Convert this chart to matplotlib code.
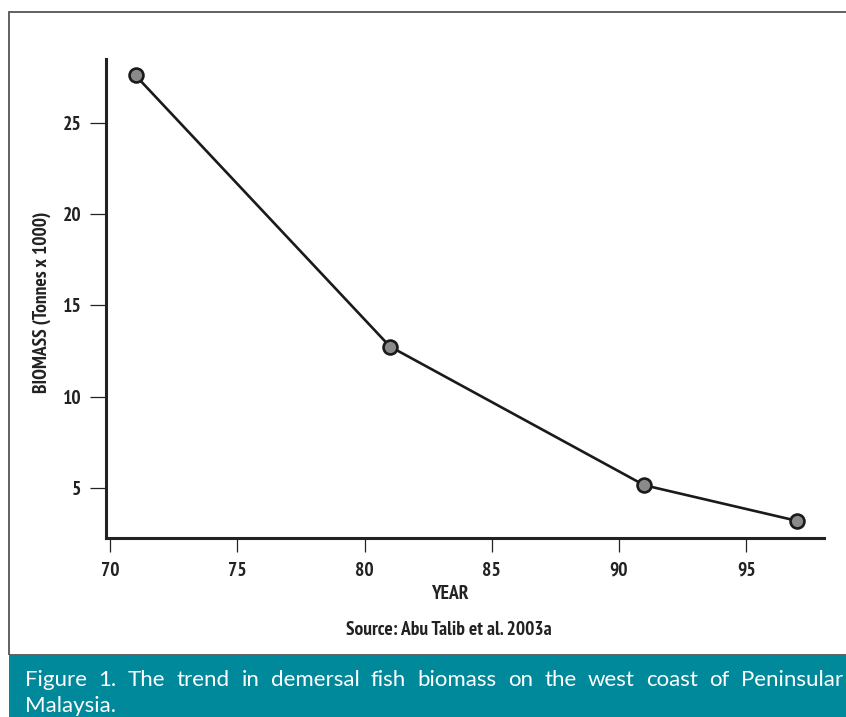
import matplotlib
matplotlib.use('Agg')
import matplotlib.pyplot as plt
from matplotlib.patches import Rectangle

years = [71, 81, 91, 97]
biomass = [27.6, 12.75, 5.15, 3.2]
x_ticks = [70, 75, 80, 85, 90, 95]
y_ticks = [5, 10, 15, 20, 25]

caption_words = "Figure 1. The trend in demersal fish biomass on the west coast of Peninsular".split()
caption_last = "Malaysia."

W, H = 846, 717
cond = ['PT Sans Narrow', 'DejaVu Sans']
teal = '#00889b'
ink = '#222222'

fig = plt.figure(figsize=(W / 100, H / 100), dpi=100)
fig.patch.set_facecolor('white')

# frame and caption band
fig.add_artist(Rectangle((9 / W, 62 / H), 1.0, (655 - 12) / H, transform=fig.transFigure,
                         facecolor='none', edgecolor='#555555', lw=1.3))
fig.add_artist(Rectangle((9 / W, 0), 1.0, 62 / H, transform=fig.transFigure,
                         facecolor=teal, edgecolor='none'))

ax = fig.add_axes([106 / W, 1 - 538 / H, (824 - 106) / W, (538 - 59) / H])
ax.plot(years, biomass, color='#1a1a1a', lw=1.9, marker='o', ms=10,
        markerfacecolor='#8a8a8a', markeredgecolor='#1a1a1a', markeredgewidth=1.9,
        clip_on=False, zorder=3)
ax.set_xlim(69.84, 98.06)
ax.set_ylim(2.26, 28.5)
ax.set_xticks(x_ticks)
ax.set_yticks(y_ticks)
for s in ['top', 'right']:
    ax.spines[s].set_visible(False)
for s in ['left', 'bottom']:
    ax.spines[s].set_linewidth(2.2)
    ax.spines[s].set_color(ink)
ax.tick_params(axis='y', direction='out', length=11.5, width=0.9, pad=6, color=ink)
ax.tick_params(axis='x', direction='out', length=10, width=0.9, pad=7, color=ink)
for lab in ax.get_xticklabels() + ax.get_yticklabels():
    lab.set_family(cond)
    lab.set_fontweight('bold')
    lab.set_fontsize(14)
    lab.set_color(ink)

fig.text(450 / W, 1 - 594 / H, 'YEAR', ha='center', va='center', family=cond,
         fontweight='bold', fontsize=14, color=ink)
fig.text(42 / W, 1 - 302 / H, 'BIOMASS (Tonnes x 1000)', ha='center', va='center',
         rotation=90, family=cond, fontweight='bold', fontsize=14, color=ink)
fig.text(449 / W, 1 - 630 / H, 'Source: Abu Talib et al. 2003a', ha='center', va='center',
         family=cond, fontweight='bold', fontsize=14, color=ink)

# justified caption, first line spans the band width
cap_font = dict(family=['Lato', 'DejaVu Sans'], fontsize=16, color='white')
fig.canvas.draw()
r = fig.canvas.get_renderer()
left, right = 25, 843
widths = []
for w in caption_words:
    t = fig.text(0, 0, w, **cap_font)
    widths.append(t.get_window_extent(r).width)
    t.remove()
gap = (right - left - sum(widths)) / (len(caption_words) - 1)
x = left
for w, wd in zip(caption_words, widths):
    fig.text(x / W, 1 - 686 / H, w, ha='left', va='baseline', **cap_font)
    x += wd + gap
fig.text(left / W, 1 - 712 / H, caption_last, ha='left', va='baseline', **cap_font)

fig.savefig('out.png', dpi=100)
